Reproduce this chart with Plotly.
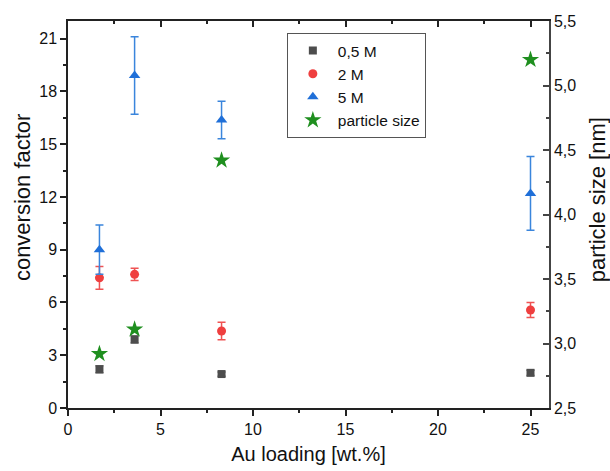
import plotly.graph_objects as go

# Data
au_loading = [1.7, 3.6, 8.3, 25]
conv_05M = [2.2, 3.9, 1.93, 2.0]
conv_05M_err = [0.2, 0.2, 0.12, 0.15]
conv_2M = [7.4, 7.6, 4.38, 5.57]
conv_2M_err = [0.65, 0.35, 0.5, 0.43]
conv_5M = [9.0, 18.9, 16.37, 12.2]
conv_5M_err = [1.4, 2.2, 1.07, 2.1]
particle_size = [2.92, 3.11, 4.42, 5.2]

FONT = "Liberation Sans, Arial, sans-serif"
AXC = "#222222"

fig = go.Figure()

fig.add_trace(go.Scatter(
    x=au_loading, y=conv_05M, mode="markers", name="0,5 M",
    marker=dict(symbol="square", size=8, color="#4d4d4d"),
    error_y=dict(type="data", array=conv_05M_err, color="#6a6a6a", thickness=1.5, width=4),
))
fig.add_trace(go.Scatter(
    x=au_loading, y=conv_2M, mode="markers", name="2 M",
    marker=dict(symbol="circle", size=9, color="#ef3f3f"),
    error_y=dict(type="data", array=conv_2M_err, color="#ef5353", thickness=1.5, width=4),
))
fig.add_trace(go.Scatter(
    x=au_loading, y=conv_5M, mode="markers", name="5 M",
    marker=dict(symbol="triangle-up", size=10, color="#1f6fd8"),
    error_y=dict(type="data", array=conv_5M_err, color="#3a85dc", thickness=1.5, width=4),
))
fig.add_trace(go.Scatter(
    x=au_loading, y=particle_size, mode="markers", name="particle size",
    marker=dict(symbol="star", size=13, color="#1f8f1f"),
    yaxis="y2",
))
# invisible trace to carry top axis
fig.add_trace(go.Scatter(x=[0, 26], y=[None, None], xaxis="x2", showlegend=False, hoverinfo="skip"))

tickfont = dict(family=FONT, size=16, color="#111111")
xtitlefont = dict(family=FONT, size=20, color="#111111")
ytitlefont = dict(family=FONT, size=22, color="#111111")

fig.update_layout(
    width=610, height=471,
    margin=dict(l=68, r=61, t=21, b=63),
    plot_bgcolor="white", paper_bgcolor="white",
    separators=",.",
    showlegend=True,
    legend=dict(
        x=0.455, y=0.969, xanchor="left", yanchor="top",
        bgcolor="white", bordercolor="#555555", borderwidth=1,
        font=dict(family=FONT, size=15.5, color="#111111"),
        tracegroupgap=0, itemwidth=40,
    ),
    xaxis=dict(
        range=[0, 26], dtick=5, tick0=0, showline=True, linecolor=AXC, linewidth=1.5,
        ticks="outside", ticklen=6, tickwidth=1.5, tickcolor=AXC,
        minor=dict(dtick=2.5, ticks="outside", ticklen=3, tickwidth=1.5, tickcolor=AXC),
        showgrid=False, zeroline=False, tickfont=tickfont, automargin=False,
        title=dict(text="Au loading [wt.%]", font=xtitlefont, standoff=10),
    ),
    xaxis2=dict(
        range=[0, 26], dtick=5, tick0=0, overlaying="x", side="top",
        showline=True, linecolor=AXC, linewidth=1.5,
        ticks="inside", ticklen=6, tickwidth=1.5, tickcolor=AXC,
        minor=dict(dtick=2.5, ticks="inside", ticklen=3, tickwidth=1.5, tickcolor=AXC),
        showticklabels=False, showgrid=False, zeroline=False, automargin=False,
    ),
    yaxis=dict(
        range=[0, 22], dtick=3, tick0=0, showline=True, linecolor=AXC, linewidth=1.5,
        ticks="outside", ticklen=6, tickwidth=1.5, tickcolor=AXC,
        minor=dict(dtick=1.5, ticks="outside", ticklen=3, tickwidth=1.5, tickcolor=AXC),
        showgrid=False, zeroline=False, tickfont=tickfont, automargin=False,
    ),
    yaxis2=dict(
        range=[2.5, 5.5], dtick=0.5, tick0=2.5, overlaying="y", side="right",
        showline=True, linecolor="#444444", linewidth=1.5,
        ticks="inside", ticklen=6, tickwidth=1.5, tickcolor="#444444",
        minor=dict(dtick=0.25, ticks="inside", ticklen=3, tickwidth=1.5, tickcolor="#444444"),
        tickformat=".1f", showgrid=False, zeroline=False, tickfont=tickfont, automargin=False,
    ),
    annotations=[
        dict(text="conversion factor", xref="paper", yref="paper", x=-0.0956, y=0.545,
             textangle=-90, showarrow=False, font=ytitlefont, xanchor="center", yanchor="middle"),
        dict(text="particle size [nm]", xref="paper", yref="paper", x=1.0998, y=0.537,
             textangle=-90, showarrow=False, font=ytitlefont, xanchor="center", yanchor="middle"),
    ],
)

# remove the page's default body margin so the figure fills the 610x471 window exactly
fig.write_html("out.html", config={"displayModeBar": False},
               post_script="document.body.style.margin='0px';")
